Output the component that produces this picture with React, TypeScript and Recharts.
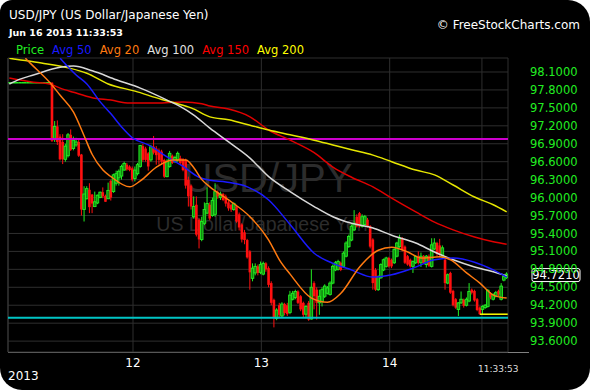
import React from "react";
import {
  ComposedChart,
  Bar,
  Line,
  XAxis,
  YAxis,
  CartesianGrid,
  ReferenceLine,
} from "recharts";

const Y_MIN = 93.418;
const Y_MAX = 98.334;

const priceTicks = [93.6, 93.9, 94.2, 94.5, 94.8, 95.1, 95.4, 95.7, 96.0, 96.3, 96.6, 96.9, 97.2, 97.5, 97.8, 98.1];
const dayTicks = [46.25, 94.25, 142.25, 176.75];
const dayLabels = ["12", "13", "14", ""];

const support = 93.99;
const resistance = 96.98;
const lowMark = 94.05;

// 30 min candles: [open, high, low, close]
const ohlc: number[][] = [
  [97.92, 97.92, 97.92, 97.92], [97.92, 97.92, 97.92, 97.92], [97.92, 97.92, 97.92, 97.92], [97.92, 97.92, 97.92, 97.92],
  [97.92, 97.92, 97.92, 97.92], [97.92, 97.92, 97.92, 97.92], [97.92, 97.92, 97.92, 97.92], [97.92, 97.92, 97.92, 97.92],
  [97.92, 97.92, 97.92, 97.92], [97.92, 97.92, 97.92, 97.92], [97.92, 97.92, 97.92, 97.92], [97.92, 97.92, 97.92, 97.92],
  [97.92, 97.92, 97.92, 97.92], [97.92, 97.92, 97.92, 97.92], [97.92, 97.92, 97.92, 97.92], [97.92, 97.92, 97.92, 97.92],
  [97.92, 97.93, 96.93, 96.95], [96.99, 97.28, 96.93, 97.19], [97.19, 97.29, 96.88, 96.93], [97.02, 97.06, 96.62, 96.64],
  [96.93, 97.06, 96.56, 96.64], [96.64, 96.9, 96.6, 96.86], [96.7, 97.08, 96.67, 97.05], [97.05, 97.14, 96.78, 96.8],
  [96.82, 97.02, 96.79, 96.96], [96.88, 97.0, 96.85, 96.93], [96.93, 96.97, 96.68, 96.7], [96.72, 96.73, 95.7, 95.8],
  [95.8, 96.19, 95.6, 96.06], [95.98, 96.19, 95.97, 96.15], [96.13, 96.24, 95.74, 95.84], [96.05, 96.06, 95.74, 95.9],
  [95.85, 96.1, 95.84, 95.93], [95.91, 96.05, 95.89, 96.04], [96.0, 96.1, 95.99, 96.09], [96.09, 96.17, 95.99, 96.02],
  [96.03, 96.05, 95.93, 95.93], [95.98, 96.25, 95.98, 96.12], [96.28, 96.3, 95.95, 96.0], [96.1, 96.4, 96.08, 96.38],
  [96.24, 96.45, 96.2, 96.4], [96.33, 96.47, 96.2, 96.44], [96.36, 96.55, 96.3, 96.52], [96.46, 96.6, 96.45, 96.57],
  [96.55, 96.58, 96.45, 96.47], [96.52, 96.54, 96.44, 96.46], [96.49, 96.52, 96.27, 96.3], [96.32, 96.52, 96.27, 96.46],
  [96.4, 96.58, 96.37, 96.55], [96.52, 96.88, 96.5, 96.87], [96.86, 96.9, 96.6, 96.63], [96.82, 96.85, 96.6, 96.63],
  [96.74, 96.76, 96.45, 96.52], [96.63, 96.88, 96.6, 96.85], [96.85, 97.03, 96.72, 96.75], [96.82, 96.86, 96.55, 96.71],
  [96.79, 96.82, 96.55, 96.63], [96.77, 96.8, 96.55, 96.6], [96.63, 96.65, 96.33, 96.35], [96.35, 96.64, 96.34, 96.6],
  [96.52, 96.78, 96.5, 96.74], [96.7, 96.72, 96.56, 96.58], [96.6, 96.7, 96.58, 96.67], [96.63, 96.77, 96.6, 96.74],
  [96.66, 96.7, 96.55, 96.58], [96.64, 96.66, 96.44, 96.46], [96.63, 96.65, 96.15, 96.2], [96.3, 96.35, 95.85, 96.02],
  [96.2, 96.22, 95.8, 95.85], [95.68, 96.02, 95.65, 95.85], [95.88, 96.02, 95.35, 95.38], [95.63, 95.65, 95.15, 95.3],
  [95.3, 95.68, 95.27, 95.6], [95.57, 95.92, 95.54, 95.8], [95.74, 96.17, 95.72, 95.9], [95.88, 95.92, 95.62, 95.65],
  [95.7, 96.0, 95.68, 95.95], [95.72, 96.24, 95.68, 96.1], [96.08, 96.12, 95.98, 96.02], [96.0, 96.1, 95.96, 96.06],
  [96.06, 96.08, 95.94, 95.96], [96.02, 96.05, 95.85, 95.9], [95.92, 95.95, 95.78, 95.82], [95.88, 95.9, 95.76, 95.8],
  [95.8, 95.92, 95.78, 95.9], [95.85, 95.88, 95.58, 95.6], [95.72, 95.75, 95.45, 95.5], [95.55, 95.57, 95.25, 95.3],
  [95.42, 95.46, 95.22, 95.29], [95.29, 95.31, 94.98, 95.0], [95.1, 95.12, 94.46, 94.75], [94.65, 94.9, 94.6, 94.82],
  [94.74, 94.9, 94.7, 94.85], [94.85, 94.88, 94.7, 94.74], [94.75, 94.93, 94.72, 94.88], [94.72, 94.93, 94.7, 94.9],
  [94.9, 94.92, 94.76, 94.8], [94.82, 94.85, 94.5, 94.54], [94.57, 94.6, 94.2, 94.24], [94.29, 94.31, 93.83, 94.0],
  [93.98, 94.15, 93.95, 94.12], [94.2, 94.24, 94.0, 94.04], [94.02, 94.25, 94.0, 94.22], [94.22, 94.24, 94.03, 94.07],
  [94.2, 94.24, 94.02, 94.05], [94.08, 94.44, 94.05, 94.37], [94.3, 94.44, 94.28, 94.4], [94.33, 94.46, 94.3, 94.43],
  [94.43, 94.45, 94.22, 94.24], [94.35, 94.37, 94.1, 94.13], [94.24, 94.26, 94.0, 94.04], [94.05, 94.2, 93.98, 94.18],
  [94.24, 94.27, 93.94, 93.96], [93.97, 94.8, 93.96, 94.5], [94.57, 94.6, 94.13, 94.35], [94.46, 94.5, 93.96, 94.24],
  [94.24, 94.46, 94.04, 94.35], [94.26, 94.5, 94.18, 94.46], [94.35, 94.55, 94.32, 94.52], [94.4, 94.52, 94.38, 94.49],
  [94.38, 94.6, 94.36, 94.57], [94.57, 94.88, 94.55, 94.85], [94.79, 94.94, 94.77, 94.91], [94.8, 94.96, 94.78, 94.93],
  [94.91, 94.93, 94.77, 94.79], [94.85, 95.1, 94.83, 95.07], [95.02, 95.27, 95.0, 95.24], [95.18, 95.38, 95.16, 95.35],
  [95.29, 95.55, 95.27, 95.52], [95.46, 95.79, 95.44, 95.57], [95.68, 95.72, 95.5, 95.52], [95.74, 95.76, 95.5, 95.52],
  [95.52, 95.72, 95.5, 95.68], [95.55, 95.71, 95.53, 95.68], [95.63, 95.66, 95.5, 95.52], [95.52, 95.54, 95.15, 95.18],
  [95.3, 95.32, 94.46, 94.57], [94.79, 94.82, 94.44, 94.46], [94.46, 94.7, 94.44, 94.68], [94.66, 94.9, 94.64, 94.88],
  [94.79, 94.98, 94.77, 94.96], [94.85, 95.01, 94.83, 94.99], [94.99, 95.01, 94.83, 94.85], [94.96, 94.98, 94.82, 94.85],
  [94.91, 95.15, 94.89, 95.13], [95.02, 95.26, 95.0, 95.24], [95.18, 95.38, 95.16, 95.32], [95.32, 95.34, 95.1, 95.13],
  [95.18, 95.2, 94.89, 94.91], [95.02, 95.04, 94.86, 94.88], [94.96, 94.98, 94.83, 94.85], [94.85, 94.95, 94.74, 94.93],
  [94.91, 95.04, 94.89, 95.02], [95.02, 95.1, 94.88, 94.91], [94.91, 95.08, 94.84, 95.02], [95.02, 95.04, 94.89, 94.91],
  [94.88, 95.04, 94.83, 95.02], [95.02, 95.05, 94.84, 94.86], [94.85, 95.32, 94.83, 95.21], [95.14, 95.32, 95.12, 95.24],
  [95.24, 95.26, 95.02, 95.06], [95.2, 95.31, 95.0, 95.04], [95.02, 95.2, 94.99, 95.16], [94.96, 94.98, 94.46, 94.57],
  [94.57, 94.73, 94.55, 94.71], [94.74, 94.76, 94.39, 94.41], [94.44, 94.46, 94.18, 94.2], [94.3, 94.32, 94.14, 94.16],
  [94.13, 94.25, 94.02, 94.24], [94.24, 94.43, 94.22, 94.3], [94.29, 94.31, 94.16, 94.19], [94.2, 94.33, 94.18, 94.3],
  [94.27, 94.57, 94.25, 94.43], [94.46, 94.48, 94.38, 94.41], [94.44, 94.46, 94.26, 94.28], [94.3, 94.32, 94.1, 94.12],
  [94.16, 94.18, 94.04, 94.05], [94.13, 94.2, 94.04, 94.18], [94.16, 94.22, 94.14, 94.2], [94.18, 94.47, 94.16, 94.45],
  [94.4, 94.42, 94.3, 94.33], [94.3, 94.4, 94.28, 94.38], [94.35, 94.44, 94.33, 94.41], [94.44, 94.46, 94.35, 94.38],
  [94.3, 94.57, 94.28, 94.52], [94.62, 94.69, 94.6, 94.68], [94.66, 94.75, 94.64, 94.721],
];

// moving averages as [candle index, value]
const avg20 = [
  [6, 98.33], [8, 98.24], [16, 97.88], [19, 97.71], [24, 97.43], [28, 97.03], [31, 96.72], [35, 96.46], [38, 96.35],
  [45, 96.18], [49, 96.28], [55, 96.51], [61, 96.63], [66, 96.63], [69, 96.5], [72, 96.3], [75, 96.18], [82, 95.96],
  [90, 95.68], [97, 95.29], [101, 94.96], [105, 94.72], [113, 94.32], [119, 94.25], [124, 94.4], [131, 94.84],
  [138, 95.12], [143, 95.17], [149, 95.09], [154, 94.99], [161, 95.01], [165, 94.96], [171, 94.74], [176, 94.57],
  [181, 94.37], [186, 94.32],
];
const avg50 = [
  [19, 98.33], [20, 98.28], [25, 98.05], [29, 97.9], [34, 97.6], [38, 97.4], [42, 97.18], [46, 97.0], [52, 96.88],
  [59, 96.68], [65, 96.52], [71, 96.34], [75, 96.29], [81, 96.26], [89, 96.18], [97, 95.96], [105, 95.55],
  [114, 95.07], [121, 94.9], [128, 94.79], [136, 94.67], [143, 94.71], [151, 94.82], [159, 94.96], [166, 94.99],
  [174, 94.92], [181, 94.79], [186, 94.67],
];
const avg100 = [
  [0, 97.9], [4, 97.98], [9, 98.05], [19, 98.18], [24, 98.2], [31, 98.12], [40, 97.97], [49, 97.83], [59, 97.63],
  [64, 97.52], [69, 97.38], [75, 97.16], [82, 96.93], [90, 96.66], [97, 96.35], [105, 96.1], [114, 95.85],
  [121, 95.68], [128, 95.57], [136, 95.49], [143, 95.37], [152, 95.24], [159, 95.09], [166, 94.96], [174, 94.84],
  [181, 94.76], [186, 94.69],
];
const avg150 = [
  [0, 98.0], [9, 97.93], [15, 97.9], [19, 97.83], [24, 97.76], [31, 97.67], [38, 97.63], [45, 97.58], [55, 97.58],
  [65, 97.6], [72, 97.57], [75, 97.53], [82, 97.48], [90, 97.35], [97, 97.13], [105, 96.96], [114, 96.75],
  [121, 96.51], [128, 96.34], [136, 96.18], [143, 95.99], [152, 95.76], [159, 95.59], [166, 95.46], [174, 95.34],
  [181, 95.26], [186, 95.22],
];
const avg200 = [
  [0, 98.33], [3, 98.31], [12, 98.25], [22, 98.17], [29, 98.08], [37, 97.9], [47, 97.78], [57, 97.64], [62, 97.58],
  [68, 97.5], [75, 97.35], [82, 97.3], [90, 97.21], [97, 97.13], [105, 97.05], [114, 96.96], [121, 96.88],
  [128, 96.8], [136, 96.71], [143, 96.6], [152, 96.46], [159, 96.38], [166, 96.21], [174, 96.01], [181, 95.88],
  [186, 95.76],
];

const data: any[] = ohlc.map(([o, h, l, c], i) => ({ i, o, h, l, c }));
const put = (key: string, pts: number[][]) => pts.forEach(([i, v]) => (data[i][key] = v));
put("a20", avg20);
put("a50", avg50);
put("a100", avg100);
put("a150", avg150);
put("a200", avg200);

const lastClose = ohlc[ohlc.length - 1][3];

const GREEN = "#22ee22";
const RED = "#ff1010";

const Candle = (props: any) => {
  const { x, y, width, height, payload } = props;
  const { o, h, l, c } = payload;
  const k = height / (h - Y_MIN);
  const py = (v: number) => y + (h - v) * k;
  const cx = x + width / 2;
  const up = c >= o;
  const color = up ? GREEN : RED;
  const top = py(Math.max(o, c));
  const bot = py(Math.min(o, c));
  if (h === l) {
    return <rect x={cx - 1.4} y={top - 0.75} width={2.8} height={1.5} fill={color} />;
  }
  return (
    <g>
      <line x1={cx} x2={cx} y1={py(h)} y2={py(l)} stroke={color} strokeWidth={1} />
      <rect
        x={cx - 1.3}
        y={top}
        width={2.6}
        height={Math.max(bot - top, 1)}
        fill={up ? "#108a10" : color}
        stroke={up ? color : "none"}
        strokeWidth={up ? 0.9 : 0}
      />
    </g>
  );
};

const PriceTag = (props: any) => {
  const vb = props.viewBox || {};
  const x0 = vb.x + vb.width + 24;
  const y0 = vb.y;
  return (
    <g>
      <rect x={x0} y={y0 - 5.5} width={48} height={13} rx={2} fill="#000" stroke="#fff" strokeWidth={1} />
      <text x={x0 + 24} y={y0 + 5} fill="#fff" fontSize={11.5} textAnchor="middle" fontFamily="DejaVu Sans">
        {lastClose.toFixed(4)}
      </text>
    </g>
  );
};

const font = "'DejaVu Sans', Verdana, sans-serif";

const legend = [
  { name: "Price", color: GREEN },
  { name: "Avg 50", color: "#1a1aff" },
  { name: "Avg 20", color: "#ff7a10" },
  { name: "Avg 100", color: "#e0e0e0" },
  { name: "Avg 150", color: "#ff0000" },
  { name: "Avg 200", color: "#ffff00" },
];

export default function App() {
  return (
    <div
      style={{
        position: "absolute",
        left: 0,
        top: 0,
        width: 590,
        height: 390,
        background: "#000",
        borderRadius: "12px 22px 22px 22px",
        overflow: "hidden",
        fontFamily: font,
        color: "#fff",
      }}
    >
      <div style={{ position: "absolute", left: 9, top: 8, fontSize: 12, whiteSpace: "nowrap" }}>
        USD/JPY (US Dollar/Japanese Yen)
      </div>
      <div style={{ position: "absolute", left: 9, top: 27, fontSize: 9.5, fontWeight: "bold", whiteSpace: "nowrap" }}>
        Jun 16 2013 11:33:53
      </div>
      <div style={{ position: "absolute", right: 10, top: 18, fontSize: 12, whiteSpace: "nowrap" }}>
        © FreeStockCharts.com
      </div>
      <div style={{ position: "absolute", left: 16, top: 43, fontSize: 11.5, whiteSpace: "nowrap", display: "flex", gap: 8 }}>
        {legend.map((d) => (
          <span key={d.name} style={{ color: d.color }}>
            {d.name}
          </span>
        ))}
      </div>
      <div
        style={{
          position: "absolute",
          left: 0,
          width: 536,
          top: 156,
          textAlign: "center",
          fontFamily: "'Liberation Sans', Arial, sans-serif",
          fontSize: 40,
          color: "#2c2c2c",
        }}
      >
        USD/JPY
      </div>
      <div
        style={{
          position: "absolute",
          left: 0,
          width: 524,
          top: 213,
          textAlign: "center",
          fontFamily: "'Liberation Sans', Arial, sans-serif",
          fontSize: 19.5,
          color: "#2c2c2c",
        }}
      >
        US Dollar/Japanese Yen
      </div>
      <div style={{ position: "absolute", left: 8, top: 352, width: 521, height: 1, background: "#808080" }} />
      <div style={{ position: "absolute", left: 8, top: 369, fontSize: 12 }}>2013</div>
      <div style={{ position: "absolute", left: 478, top: 364, fontSize: 9, color: "#ddd" }}>11:33:53</div>
      <div style={{ position: "absolute", left: 0, top: 0 }}>
        <ComposedChart width={590} height={390} data={data} margin={{ top: 58, right: 0, bottom: 0, left: 8 }}>
          <CartesianGrid stroke="#2e2e2e" strokeWidth={1} />
          <XAxis
            type="number"
            dataKey="i"
            domain={[-0.5, 186.5]}
            ticks={dayTicks}
            tickFormatter={(v: number) => dayLabels[dayTicks.indexOf(v)] ?? ""}
            axisLine={false}
            tickLine={false}
            tickMargin={0}
            height={38}
            allowDataOverflow
            tick={{ fill: "#fff", fontSize: 12, fontFamily: font }}
          />
          <YAxis
            orientation="right"
            type="number"
            domain={[Y_MIN, Y_MAX]}
            ticks={priceTicks}
            interval={0}
            allowDataOverflow
            width={82}
            axisLine={false}
            tickLine={false}
            tickMargin={16}
            tickFormatter={(v: number) => v.toFixed(4)}
            tick={{ fill: GREEN, fontSize: 11.5, fontFamily: font }}
          />
          <ReferenceLine x={-0.5} stroke="#3a3a3a" />
          <ReferenceLine y={resistance} stroke="#cc00cc" strokeWidth={2} />
          <ReferenceLine y={support} stroke="#00c4c4" strokeWidth={2} />
          <Bar dataKey="h" barSize={3} shape={<Candle />} isAnimationActive={false} />
          <Line dataKey="a150" type="monotone" stroke="#e00000" strokeWidth={1.5} dot={false} connectNulls isAnimationActive={false} />
          <Line dataKey="a200" type="monotone" stroke="#e6e600" strokeWidth={1.5} dot={false} connectNulls isAnimationActive={false} />
          <Line dataKey="a100" type="monotone" stroke="#d8d8d8" strokeWidth={1.5} dot={false} connectNulls isAnimationActive={false} />
          <Line dataKey="a50" type="monotone" stroke="#1a1aff" strokeWidth={1.5} dot={false} connectNulls isAnimationActive={false} />
          <Line dataKey="a20" type="monotone" stroke="#ff7a10" strokeWidth={1.5} dot={false} connectNulls isAnimationActive={false} />
          <ReferenceLine
            segment={[{ x: 176, y: lowMark }, { x: 186.4, y: lowMark }]}
            stroke="#ffff00"
            strokeWidth={1.5}
          />
          <ReferenceLine y={lastClose} stroke="none" label={<PriceTag />} />
        </ComposedChart>
      </div>
    </div>
  );
}
